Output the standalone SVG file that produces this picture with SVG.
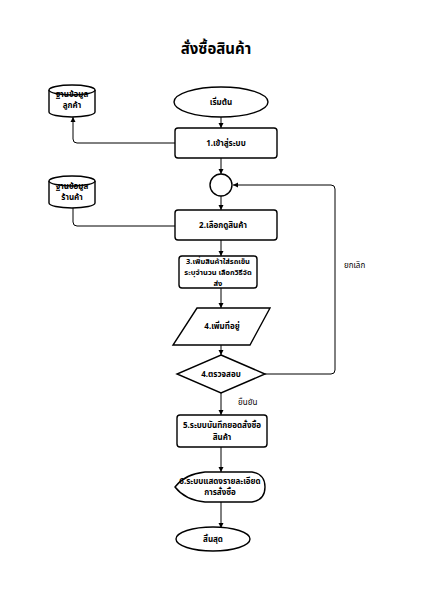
<svg xmlns="http://www.w3.org/2000/svg" width="423" height="599" viewBox="0 0 423 599">
<style>
.s{fill:#fff;stroke:#000;stroke-width:1.4}
.c{fill:none;stroke:#000;stroke-width:1}
.t{font-family:"Noto Sans Thai","Liberation Sans",sans-serif;font-size:8px;font-weight:bold;text-anchor:middle;fill:#000}
.l{font-family:"Noto Sans Thai","Liberation Sans",sans-serif;font-size:8px;fill:#000}
</style>
<defs>
<marker id="a" markerWidth="6" markerHeight="6" refX="5" refY="3" orient="auto" markerUnits="userSpaceOnUse">
<path d="M0,0.5 L5,3 L0,5.5 Z" fill="#000"/>
</marker>
</defs>
<rect width="423" height="599" fill="#fff"/>
<text x="216" y="54" class="t" style="font-size:15px">สั่งซื้อสินค้า</text>
<g id="connectors">
<path class="c" d="M221,117 V128" marker-end="url(#a)"/>
<path class="c" d="M175,143 H77 Q73,143 73,139 V117" marker-end="url(#a)"/>
<path class="c" d="M221,158 V174" marker-end="url(#a)"/>
<path class="c" d="M221,196 V210" marker-end="url(#a)"/>
<path class="c" d="M175,226 H77 Q73,226 73,222 V208"/>
<path class="c" d="M221,240 V256" marker-end="url(#a)"/>
<path class="c" d="M221,288 V308" marker-end="url(#a)"/>
<path class="c" d="M221,345 V355" marker-end="url(#a)"/>
<path class="c" d="M265,374 H331 Q335,374 335,370 V189 Q335,185 331,185 H233" marker-end="url(#a)"/>
<path class="c" d="M221,393 V415" marker-end="url(#a)"/>
<path class="c" d="M221,447 V472" marker-end="url(#a)"/>
<path class="c" d="M221,502 V528" marker-end="url(#a)"/>
<text x="344" y="268" class="l">ยกเลิก</text>
<text x="238" y="405" class="l">ยืนยัน</text>
</g>
<g id="start">
<ellipse class="s" cx="221" cy="102" rx="47" ry="15"/>
<text x="221" y="105" class="t">เริ่มต้น</text>
</g>
<g id="db1">
<path class="s" d="M49,90 V112 A23,5 0 0 0 95,112 V90"/>
<ellipse class="s" cx="72" cy="90" rx="23" ry="5"/>
<text x="72" y="97" class="t">ฐานข้อมูล</text>
<text x="72" y="108" class="t">ลูกค้า</text>
</g>
<g id="login">
<rect class="s" x="175" y="128" width="102" height="30" rx="3"/>
<text x="226" y="146" class="t">1.เข้าสู่ระบบ</text>
</g>
<g id="junction">
<circle class="s" cx="221" cy="185" r="11"/>
</g>
<g id="db2">
<path class="s" d="M49,181 V203 A23,5 0 0 0 95,203 V181"/>
<ellipse class="s" cx="72" cy="181" rx="23" ry="5"/>
<text x="72" y="189" class="t">ฐานข้อมูล</text>
<text x="72" y="200" class="t">ร้านค้า</text>
</g>
<g id="browse">
<rect class="s" x="175" y="210" width="102" height="30" rx="3"/>
<text x="223" y="228" class="t">2.เลือกดูสินค้า</text>
</g>
<g id="cart">
<rect class="s" x="179" y="256" width="78" height="32" rx="3"/>
<text x="218" y="264" class="t" style="font-size:7.5px">3.เพิ่มสินค้าใส่รถเข็น</text>
<text x="218" y="275" class="t" style="font-size:7.5px">ระบุจำนวน เลือกวิธีจัด</text>
<text x="218" y="286" class="t" style="font-size:7.5px">ส่ง</text>
</g>
<g id="address">
<path class="s" d="M197,308 H270 L250,345 H173 Z"/>
<text x="222" y="329" class="t">4.เพิ่มที่อยู่</text>
</g>
<g id="check">
<path class="s" d="M221,355 L265,374 L221,393 L177,374 Z"/>
<text x="221" y="377" class="t">4.ตรวจสอบ</text>
</g>
<g id="save">
<rect class="s" x="177" y="415" width="90" height="32" rx="3"/>
<text x="222" y="428" class="t">5.ระบบบันทึกยอดสั่งซื้อ</text>
<text x="222" y="440" class="t">สินค้า</text>
</g>
<g id="display">
<path class="s" d="M175,487 Q185,474 205,472 H252 Q265,474 265,487 Q265,500 252,502 H205 Q185,500 175,487 Z"/>
<text x="220" y="484" class="t">6.ระบบแสดงรายละเอียด</text>
<text x="220" y="495" class="t">การสั่งซื้อ</text>
</g>
<g id="end">
<ellipse class="s" cx="213" cy="539" rx="37" ry="12"/>
<text x="213" y="542" class="t">สิ้นสุด</text>
</g>
</svg>
